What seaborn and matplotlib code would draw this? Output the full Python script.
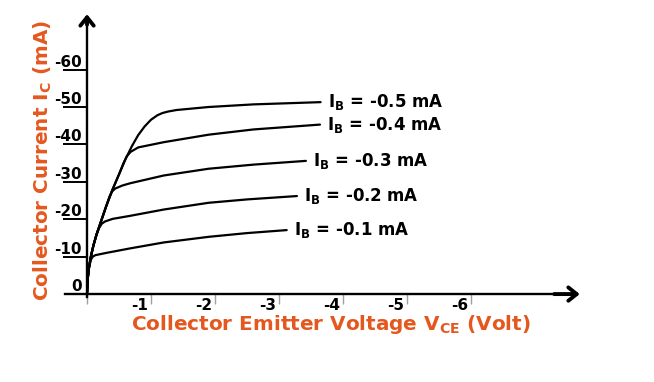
"""
Common-emitter output characteristics of a PNP transistor:
collector current vs collector-emitter voltage for five base currents.
"""

import matplotlib
matplotlib.use("Agg")  # headless, we only write out.png
import matplotlib.pyplot as plt
from matplotlib.transforms import ScaledTranslation
import pandas as pd
import seaborn as sns

# Base-current labels, one per curve.
IB_LABELS = [
    r"I$_\mathbf{B}$ = -0.1 mA",
    r"I$_\mathbf{B}$ = -0.2 mA",
    r"I$_\mathbf{B}$ = -0.3 mA",
    r"I$_\mathbf{B}$ = -0.4 mA",
    r"I$_\mathbf{B}$ = -0.5 mA",
]

# (V_CE in volt, I_C in mA).
VCE_01 = [0, -0.01, -0.03, -0.06, -0.09, -0.13, -0.3, -0.67, -1.2, -1.9, -2.5, -3.12]
IC_01 = [0, -4, -7, -9.2, -10.0, -10.4, -11.0, -12.2, -13.8, -15.3, -16.3, -17.1]

VCE_02 = [0, -0.01, -0.03, -0.06, -0.1, -0.15, -0.19, -0.23, -0.28, -0.4, -0.67, -1.2,
          -1.9, -2.5, -3.28]
IC_02 = [0, -4, -7, -10, -13, -16, -17.7, -18.8, -19.4, -20.1, -20.9, -22.6,
         -24.4, -25.3, -26.2]

VCE_03 = [0, -0.01, -0.03, -0.06, -0.1, -0.15, -0.22, -0.3, -0.35, -0.39, -0.44, -0.55,
          -0.67, -1.2, -1.9, -2.6, -3.42]
IC_03 = [0, -4, -7, -10, -13, -16, -19.5, -23.5, -26.0, -27.4, -28.2, -29.0,
         -29.6, -31.7, -33.5, -34.6, -35.6]

VCE_04 = [0, -0.01, -0.03, -0.06, -0.1, -0.15, -0.22, -0.3, -0.4, -0.5, -0.57, -0.62,
          -0.68, -0.8, -1.2, -1.9, -2.6, -3.64]
IC_04 = [0, -4, -7, -10, -13, -16, -19.5, -23.5, -28, -32, -35.0, -36.8,
         -38.0, -39.2, -40.6, -42.6, -44.0, -45.3]

VCE_05 = [0, -0.01, -0.03, -0.06, -0.1, -0.15, -0.22, -0.3, -0.4, -0.5, -0.6, -0.7,
          -0.8, -0.9, -1.0, -1.1, -1.18, -1.27, -1.4, -1.9, -2.6, -3.65]
IC_05 = [0, -4, -7, -10, -13, -16, -19.5, -23.5, -28, -32, -36, -39.5,
         -42.5, -44.8, -46.6, -47.8, -48.4, -48.8, -49.2, -50.0, -50.7, -51.3]

VCE = [VCE_01, VCE_02, VCE_03, VCE_04, VCE_05]
IC = [IC_01, IC_02, IC_03, IC_04, IC_05]

X_TICKS = [0, -1, -2, -3, -4, -5, -6]
X_TICK_LABELS = ["", "-1", "-2", "-3", "-4", "-5", "-6"]
Y_TICKS = [0, -10, -20, -30, -40, -50, -60]
Y_TICK_LABELS = ["0", "-10", "-20", "-30", "-40", "-50", "-60"]

ORANGE = "#E4581F"
Y_TICK_SPAN = 0.375  # y tick marks reach this far left of the axis (volts)

sns.set_theme(style="white")
plt.rcParams["font.family"] = ["DejaVu Sans"]
plt.rcParams["font.weight"] = "bold"
plt.rcParams["axes.unicode_minus"] = False
plt.rcParams["mathtext.fontset"] = "dejavusans"

rows = []
for label, vs, cs in zip(IB_LABELS, VCE, IC):
    for v, c in zip(vs, cs):
        rows.append({"ib": label, "vce": v, "ic": c})
df = pd.DataFrame(rows)

fig = plt.figure(figsize=(6.54, 3.82), dpi=100)
ax = fig.add_axes([0, 0, 1, 1])
ax.set_facecolor("white")

sns.lineplot(data=df, x="vce", y="ic", units="ib", estimator=None, sort=False,
             color="black", linewidth=1.6, ax=ax)

# axes run "negative to the right/up": inverted limits
ax.set_xlim(1.36, -8.86)
ax.set_ylim(23.5, -78.6)

for side in ["top", "right"]:
    ax.spines[side].set_visible(False)
for side in ["left", "bottom"]:
    ax.spines[side].set_position(("data", 0))
    ax.spines[side].set_color("black")
    ax.spines[side].set_linewidth(1.7)
ax.spines["left"].set_bounds(0.8, -74)
ax.spines["bottom"].set_bounds(0.34, -7.6)

# arrow heads on both axes
head = dict(arrowstyle="->,head_length=0.5,head_width=0.4", lw=2.8, color="black",
            shrinkA=0, shrinkB=0)
ax.annotate("", xy=(0, -74.8), xytext=(0, -72), arrowprops=head)
ax.annotate("", xy=(-7.7, 0), xytext=(-7.3, 0), arrowprops=head)

# long y tick marks, drawn on the data scale
ax.hlines(Y_TICKS[1:], 0, Y_TICK_SPAN, color="black", linewidth=1.4)

ax.set_yticks(Y_TICKS)
ax.set_yticklabels(Y_TICK_LABELS, va="bottom")
ax.tick_params(axis="y", left=True, direction="out", length=17.3, width=0,
               pad=-13.3, labelsize=11, labelcolor="black")

ax.set_xticks(X_TICKS)
ax.set_xticklabels(X_TICK_LABELS, ha="right")
ax.tick_params(axis="x", bottom=True, direction="out", length=7.5, width=1.0,
               color="#a0a0a0", pad=-4.6, labelsize=11, labelcolor="black")
shift = ScaledTranslation(-3 / 100, 0, fig.dpi_scale_trans)
for lab in ax.get_xticklabels():
    lab.set_transform(lab.get_transform() + shift)

ax.set_xlabel("")
ax.set_ylabel("")

# curve labels just past each curve's end
for label, vs, cs in zip(IB_LABELS, VCE, IC):
    ax.annotate(label, xy=(vs[-1], cs[-1]), xytext=(5, 0), textcoords="offset points",
                ha="left", va="center", fontsize=12, color="black")

fig.text(331 / 654, 1 - 325 / 382,
         r"Collector Emitter Voltage V$_\mathbf{CE}$ (Volt)",
         ha="center", va="center", fontsize=14.4, color=ORANGE)
fig.text(43 / 654, 1 - 160 / 382, r"Collector Current I$_\mathbf{C}$ (mA)",
         ha="center", va="center", rotation=90, fontsize=14.4, color=ORANGE)

fig.savefig("out.png", dpi=100, facecolor="white")
